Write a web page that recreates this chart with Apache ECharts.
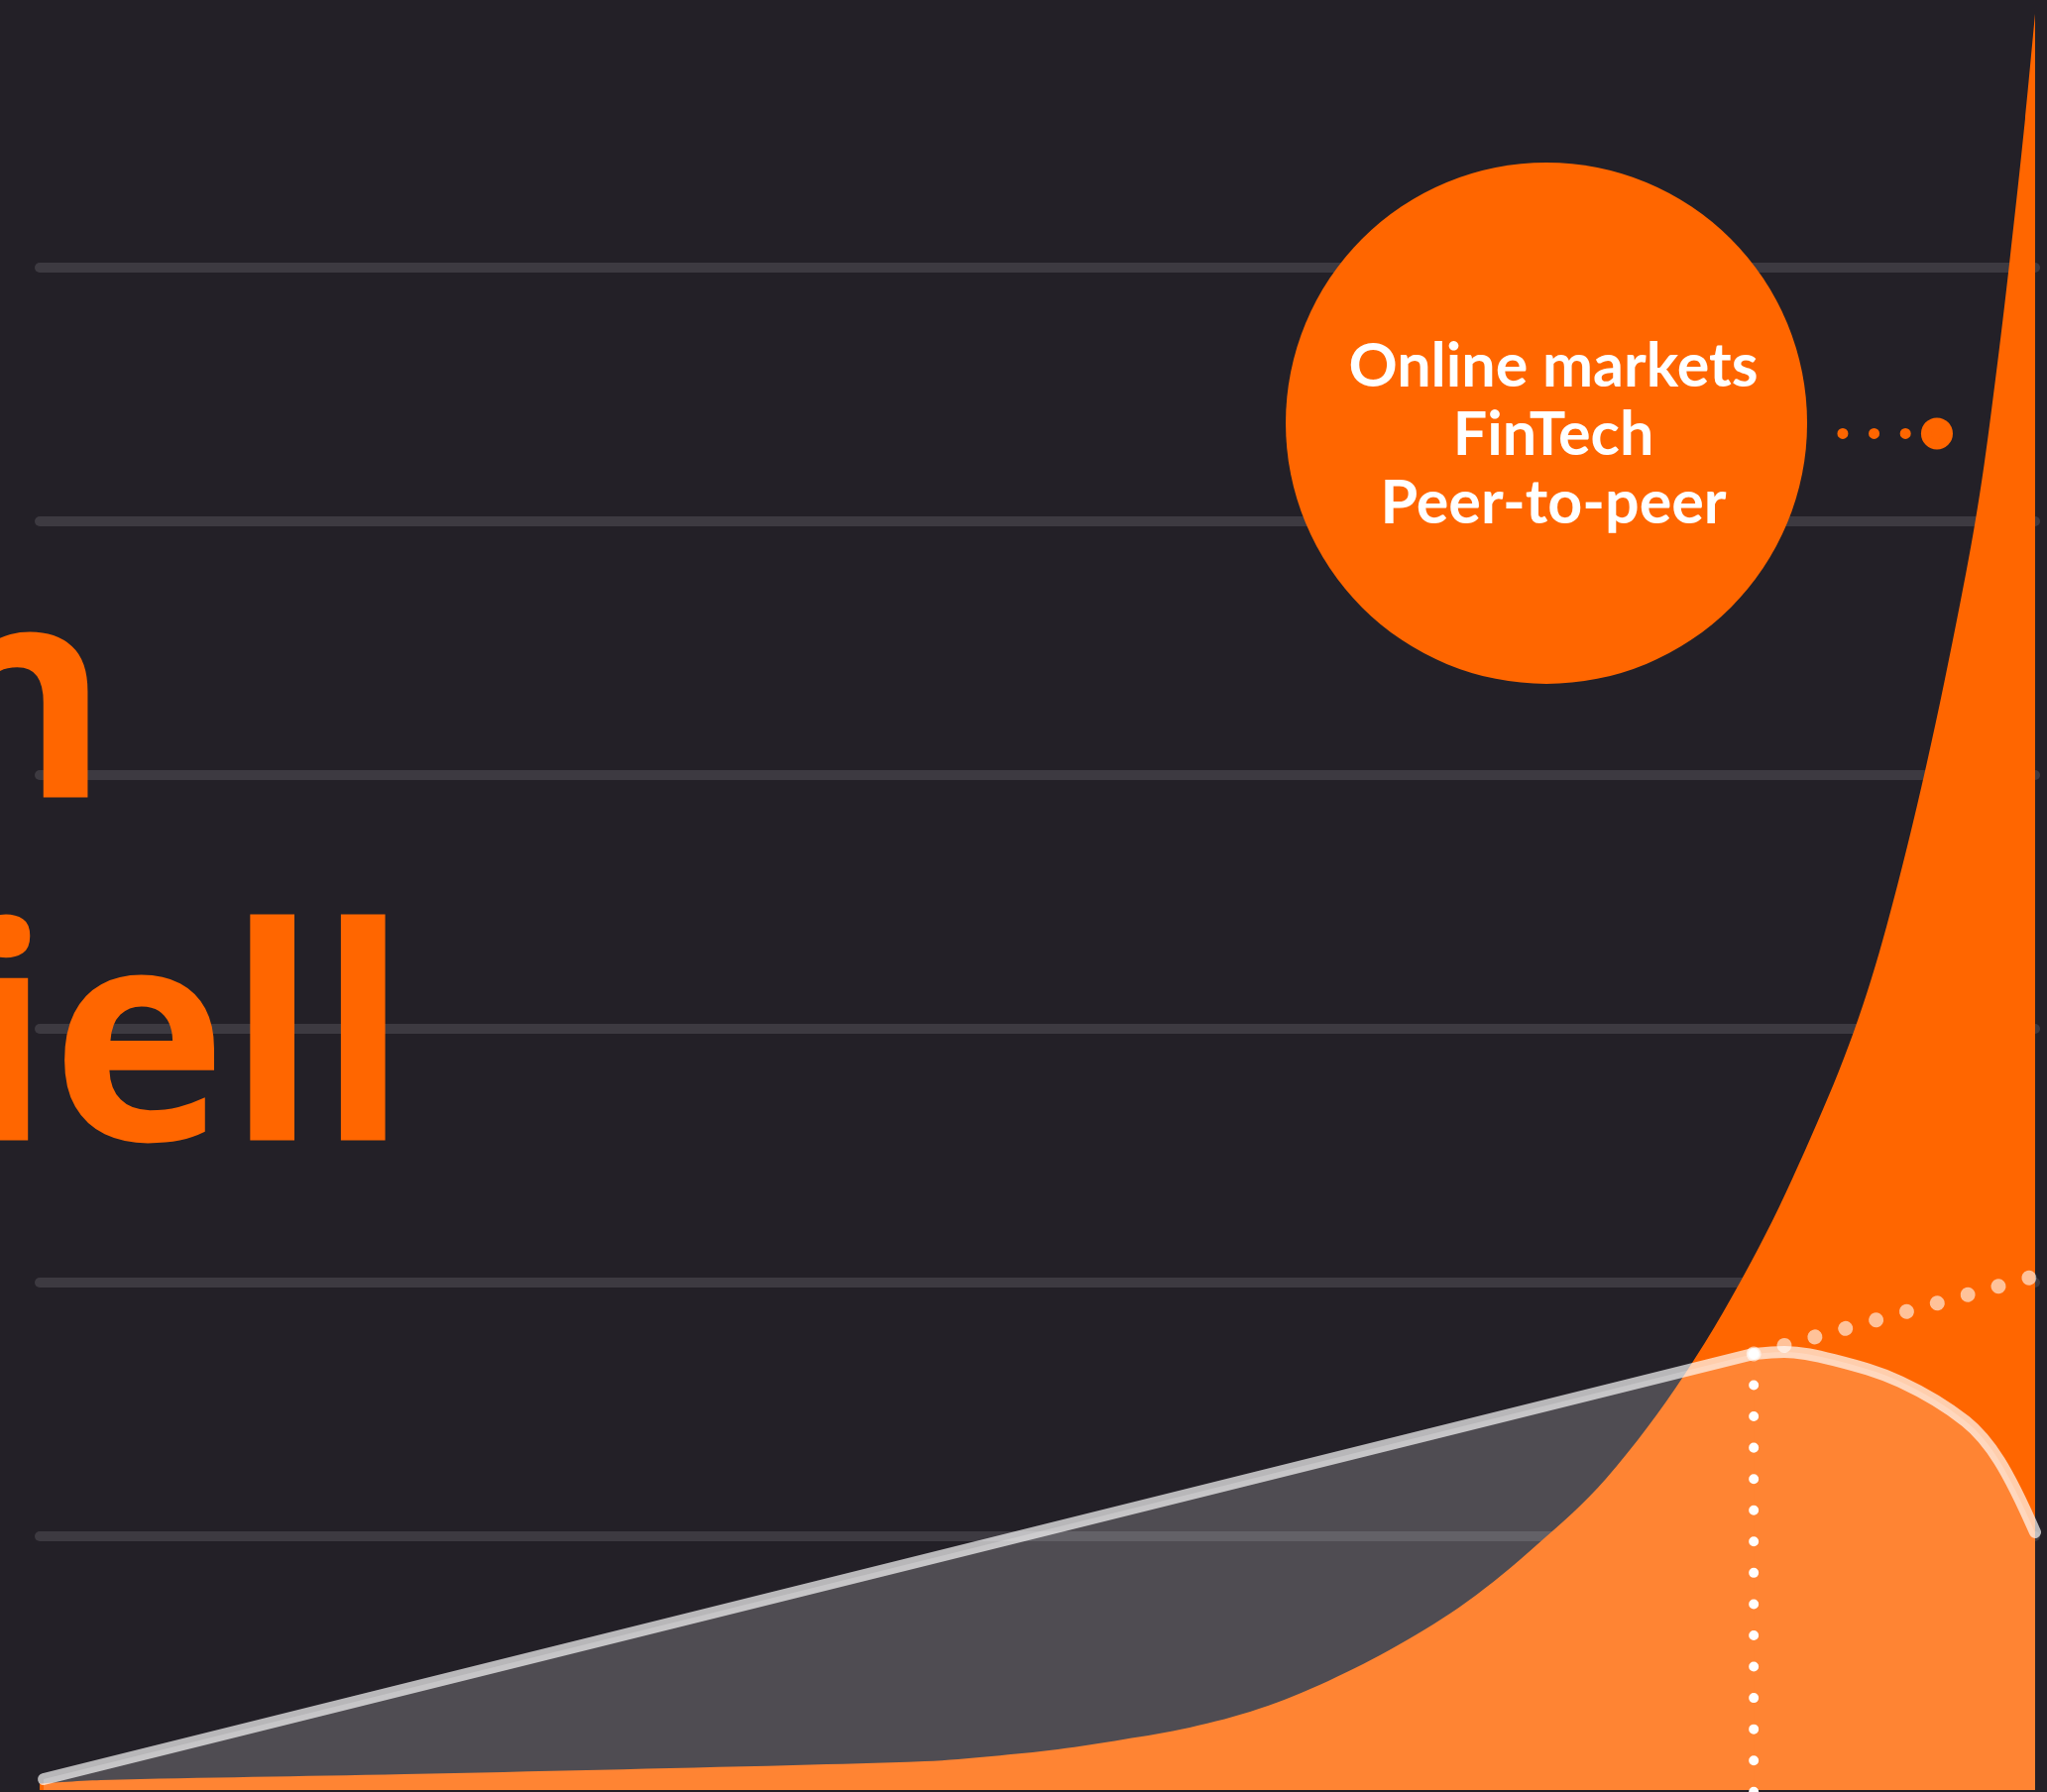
<!DOCTYPE html>
<html>
<head>
<meta charset="utf-8">
<script src="https://cdn.jsdelivr.net/npm/echarts@6/dist/echarts.min.js"></script>
<style>
  html, body { margin: 0; padding: 0; background: #232027; }
  #chart { width: 2065px; height: 1808px; }
</style>
</head>
<body>
<div id="chart"></div>
<script>
// Exponential growth curve (filled orange)
const growthX = [0, 3.08, 18.28, 37.75, 44.36, 47.69, 51.02, 54.30, 57.63, 61.10, 64.58, 68.06, 71.53, 75.01, 78.49, 82.46, 86.09, 88.77, 90.91, 92.55, 94.54, 96.27, 97.22, 98.01, 98.71, 99.50, 100];
const growthY = [0.025, 0.039, 0.0625, 0.098, 0.113, 0.133, 0.160, 0.199, 0.246, 0.320, 0.430, 0.570, 0.742, 0.965, 1.227, 1.641, 2.129, 2.574, 2.988, 3.402, 4.035, 4.688, 5.105, 5.559, 6.016, 6.586, 7.0];

// Linear trend up to the turning point
const linearX = [0.2, 85.9];
const linearY = [0.043, 1.719];

// Saturation arc after the turning point
const arcX = [85.9, 87.43, 89.92, 93.25, 96.52, 98.21, 100];
const arcY = [1.719, 1.727, 1.695, 1.609, 1.453, 1.297, 1.016];

// Turning point and the dotted continuation of the linear trend
const turnX = 85.9;
const turnY = 1.719;
const extendX = [85.9, 99.75];
const extendY = [1.719, 2.02];

// Callout bubble and its pointer
const calloutLines = ['Online markets', 'FinTech', 'Peer-to-peer'];
const calloutX = 75.51;
const calloutY = 5.387;
const pointerX = [90.36, 95.08];
const pointerY = 5.346;

// Headline fragments
const titleLines = ['n', 'iell'];

// Value axis ticks
const yMin = 0, yMax = 7, yStep = 1;

const ORANGE = '#FF6600';
const BG = '#232027';
const GRID = '#3d3a41';
const TREND_LINE = 'rgba(255,255,255,0.68)';
const TREND_AREA = 'rgba(255,255,255,0.2)';

const pairs = (xs, ys) => xs.map((x, i) => [x, ys[i]]);

const chart = echarts.init(document.getElementById('chart'), null, { renderer: 'canvas' });

const splitColors = [];
for (let v = yMin; v <= yMax; v += yStep) {
  splitColors.push(v === yMin || v === yMax ? 'rgba(0,0,0,0)' : GRID);
}

chart.setOption({
  backgroundColor: BG,
  animation: false,
  grid: { left: 40, right: 12, top: 14, bottom: 2 },
  xAxis: {
    type: 'value', min: 0, max: 100,
    axisLine: { show: false }, axisTick: { show: false },
    axisLabel: { show: false }, splitLine: { show: false }
  },
  yAxis: {
    type: 'value', min: yMin, max: yMax, interval: yStep,
    axisLine: { show: false }, axisTick: { show: false }, axisLabel: { show: false },
    splitLine: { show: true, lineStyle: { color: splitColors, width: 10, cap: 'round' } }
  },
  graphic: [
    {
      type: 'text', z: 1,
      style: {
        text: titleLines[0], x: 111, y: 719,
        textAlign: 'right', align: 'right',
        textVerticalAlign: 'middle', verticalAlign: 'middle',
        font: '700 300px "Open Sans"', fill: ORANGE
      }
    },
    {
      type: 'text', z: 1,
      style: {
        text: titleLines[1], x: 412, y: 1065,
        textAlign: 'right', align: 'right',
        textVerticalAlign: 'middle', verticalAlign: 'middle',
        font: '700 300px "Open Sans"', fill: ORANGE
      }
    }
  ],
  series: [
    {
      name: 'growth', type: 'line', data: pairs(growthX, growthY),
      smooth: 0.35, symbol: 'none',
      lineStyle: { width: 0 },
      areaStyle: { color: ORANGE, opacity: 1 }
    },
    {
      name: 'linear', type: 'line', data: pairs(linearX, linearY),
      symbol: 'none',
      lineStyle: { color: TREND_LINE, width: 12, cap: 'round' },
      areaStyle: { color: TREND_AREA, opacity: 1 }
    },
    {
      name: 'arc', type: 'line', data: pairs(arcX, arcY),
      smooth: 0.35, symbol: 'none',
      lineStyle: { color: TREND_LINE, width: 12, cap: 'round', join: 'round' },
      areaStyle: { color: TREND_AREA, opacity: 1 }
    },
    {
      name: 'extension', type: 'line', data: pairs(extendX, extendY),
      symbol: 'none',
      lineStyle: { color: 'rgba(255,255,255,0.6)', width: 15, cap: 'round', type: [0.01, 32] }
    },
    {
      name: 'drop', type: 'line', data: [[turnX, turnY], [turnX, yMin - 0.012]],
      symbol: 'none', clip: false,
      lineStyle: { color: '#ffffff', width: 10, cap: 'round', type: [0.01, 31.55] }
    },
    {
      name: 'turn', type: 'scatter', data: [[turnX, turnY]],
      symbol: 'circle', symbolSize: 30,
      itemStyle: { color: '#ffffff', opacity: 1 }
    },
    {
      name: 'pointer', type: 'line', data: pointerX.map(x => [x, pointerY]),
      symbol: 'none',
      lineStyle: { color: ORANGE, width: 11, cap: 'round', type: [0.01, 31.6] }
    },
    {
      name: 'pointerEnd', type: 'scatter', data: [[pointerX[1], pointerY]],
      symbol: 'circle', symbolSize: 32,
      itemStyle: { color: ORANGE, opacity: 1 }
    },
    {
      name: 'callout', type: 'scatter', data: [[calloutX, calloutY]],
      symbol: 'circle', symbolSize: 526,
      itemStyle: { color: ORANGE, opacity: 1 },
      label: {
        show: true, position: 'inside', offset: [7, 12],
        formatter: calloutLines.join('\n'),
        color: '#ffffff', fontFamily: 'Lato', fontWeight: 700,
        fontSize: 61, lineHeight: 69, align: 'center'
      }
    }
  ]
});
</script>
</body>
</html>
